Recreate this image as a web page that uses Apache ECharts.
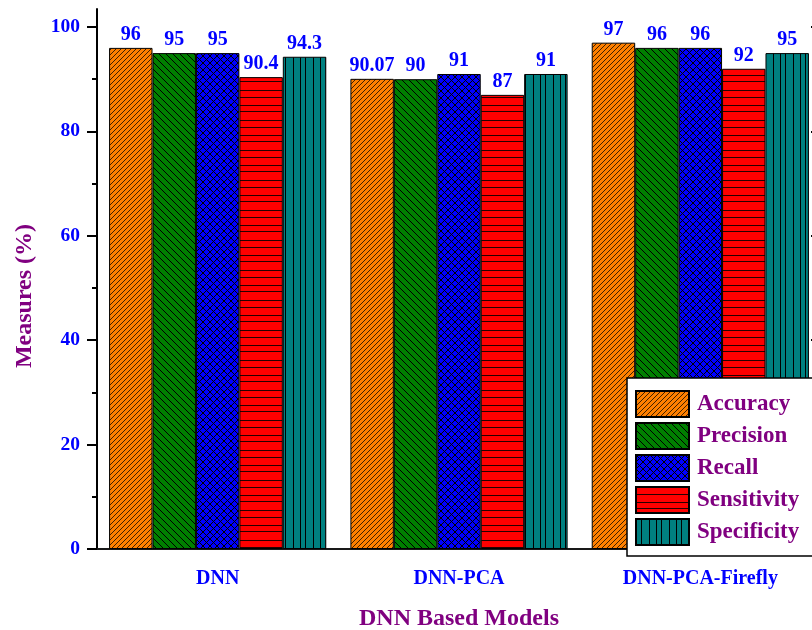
<!DOCTYPE html>
<html>
<head>
<meta charset="utf-8">
<script src="https://cdn.jsdelivr.net/npm/echarts@6/dist/echarts.min.js"></script>
<style>html,body{margin:0;padding:0;background:#fff;}#c{width:812px;height:630px;}</style>
</head>
<body>
<div id="c"></div>
<script>
const categories = ['DNN', 'DNN-PCA', 'DNN-PCA-Firefly'];
const seriesNames = ['Accuracy', 'Precision', 'Recall', 'Sensitivity', 'Specificity'];
const accuracy = [96, 90.07, 97];
const precision = [95, 90, 96];
const recall = [95, 91, 96];
const sensitivity = [90.4, 87, 92];
const specificity = [94.3, 91, 95];
const yMajorTicks = [0, 20, 40, 60, 80, 100];
const yMinorTicks = [10, 30, 50, 70, 90];

const FONT = 'Liberation Serif';

function pattern(bg, w, h, draw) {
  const c = document.createElement('canvas');
  c.width = w; c.height = h;
  const ctx = c.getContext('2d');
  ctx.fillStyle = bg; ctx.fillRect(0, 0, w, h);
  ctx.strokeStyle = '#000'; ctx.lineWidth = 1;
  draw(ctx, w, h);
  return { image: c, repeat: 'repeat' };
}
function fwd(ctx, s) { // "/" lines
  ctx.beginPath();
  for (let k = -1; k <= 1; k++) { ctx.moveTo(k * s - 1, s + 1); ctx.lineTo(k * s + s + 1, -1); }
  ctx.stroke();
}
function back(ctx, s) { // "\" lines
  ctx.beginPath();
  for (let k = -1; k <= 1; k++) { ctx.moveTo(k * s - 1, -1); ctx.lineTo(k * s + s + 1, s + 1); }
  ctx.stroke();
}
const fills = [
  pattern('#FF8000', 5, 5, (ctx) => { ctx.strokeStyle = 'rgba(0,0,0,0.75)'; fwd(ctx, 5); }),
  pattern('#007F00', 7, 7, (ctx) => { back(ctx, 7); }),
  pattern('#0000FF', 7, 7, (ctx) => { fwd(ctx, 7); back(ctx, 7); }),
  pattern('#FF0000', 1, 30, (ctx) => {
    ctx.fillStyle = 'rgba(0,0,0,0.85)';
    [0, 7, 15, 21].forEach((y) => ctx.fillRect(0, y, 1, 1));
  }),
  pattern('#008080', 20, 1, (ctx) => {
    ctx.fillStyle = '#000';
    [0, 5, 13].forEach((x) => ctx.fillRect(x, 0, 1, 1));
  })
];
const dataArrays = [accuracy, precision, recall, sensitivity, specificity];

const YMAX = 103.45;
const chart = echarts.init(document.getElementById('c'), null, { renderer: 'canvas' });
chart.setOption({
  animation: false,
  backgroundColor: '#fff',
  grid: { left: 97, top: 9, width: 724, height: 540, containLabel: false, outerBoundsMode: 'none' },
  legend: {
    orient: 'vertical', left: 627, top: 378,
    padding: [12, 40, 10, 8], itemGap: 4, itemWidth: 53, itemHeight: 26,
    backgroundColor: '#fff', borderColor: '#000', borderWidth: 1.5,
    icon: 'rect',
    itemStyle: { borderColor: '#000', borderWidth: 2 },
    textStyle: { color: '#800080', fontFamily: FONT, fontWeight: 'bold', fontSize: 23, padding: [0, 0, 0, 3] },
    data: seriesNames
  },
  xAxis: [
    {
      type: 'category', position: 'bottom', data: categories,
      axisLine: { lineStyle: { color: '#000', width: 2 } },
      axisTick: { alignWithLabel: true, length: 10, lineStyle: { color: '#000', width: 2 } },
      axisLabel: { color: '#0000FF', fontFamily: FONT, fontWeight: 'bold', fontSize: 20, margin: 20 },
      name: 'DNN Based Models', nameLocation: 'middle', nameGap: 58,
      nameTextStyle: { color: '#800080', fontFamily: FONT, fontWeight: 'bold', fontSize: 24 }
    },
    {
      type: 'category', position: 'bottom', data: categories,
      axisLine: { show: false },
      axisTick: { length: 5, lineStyle: { color: '#000', width: 2 } },
      axisLabel: { show: false }
    },
    {
      type: 'category', position: 'top', data: categories,
      axisLine: { lineStyle: { color: '#222', width: 1.5 } },
      axisTick: { alignWithLabel: true, inside: true, length: 10, lineStyle: { color: '#000', width: 2 } },
      axisLabel: { show: false }
    }
  ],
  yAxis: [
    {
      type: 'value', position: 'left', min: 0, max: YMAX,
      axisLine: { show: true, lineStyle: { color: '#000', width: 2 } },
      axisTick: { show: true, length: 10, customValues: yMajorTicks, lineStyle: { color: '#000', width: 2 } },
      axisLabel: { customValues: yMajorTicks, color: '#0000FF', fontFamily: FONT, fontWeight: 'bold', fontSize: 19.5, margin: 17 },
      splitLine: { show: false }
    },
    {
      type: 'value', position: 'left', min: 0, max: YMAX,
      axisLine: { show: false },
      axisTick: { show: true, length: 5, customValues: yMinorTicks, lineStyle: { color: '#000', width: 2 } },
      axisLabel: { show: false },
      splitLine: { show: false }
    },
    {
      type: 'value', position: 'right', min: 0, max: YMAX,
      axisLine: { show: true, lineStyle: { color: '#222', width: 1.5 } },
      axisTick: { show: true, inside: true, length: 10, customValues: yMajorTicks, lineStyle: { color: '#000', width: 2 } },
      axisLabel: { show: false },
      splitLine: { show: false }
    }
  ],
  graphic: [{
    type: 'text', x: 25, y: 296, rotation: Math.PI / 2,
    style: {
      text: 'Measures (%)', fill: '#800080',
      font: 'bold 24px "Liberation Serif"',
      align: 'center', verticalAlign: 'middle'
    }
  }],
  series: seriesNames.map((name, i) => ({
    name: name, type: 'bar', xAxisIndex: 0, yAxisIndex: 0,
    data: dataArrays[i],
    barGap: '0%', barCategoryGap: '10%',
    itemStyle: { color: fills[i], borderColor: '#000', borderWidth: 1 },
    label: {
      show: true, position: 'top', distance: 3,
      color: '#0000FF', fontFamily: FONT, fontWeight: 'bold', fontSize: 20
    }
  }))
});
</script>
</body>
</html>
